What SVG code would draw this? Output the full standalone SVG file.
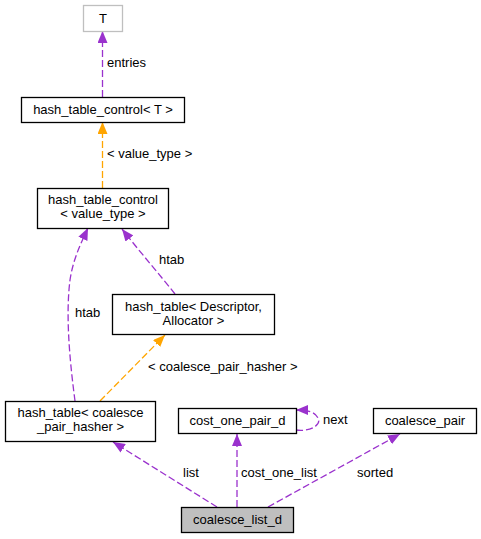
<svg xmlns="http://www.w3.org/2000/svg" width="481" height="539" viewBox="0 0 481 539">
<defs>
<style>
text{font-family:"Liberation Sans",Arial,sans-serif;font-size:13px;fill:#000}
.n rect{fill:#fff;stroke:#000;stroke-width:1.3}
.c{text-anchor:middle}
.p{fill:none;stroke:#9a32cd;stroke-width:1.3;stroke-dasharray:7,3}
.o{fill:none;stroke:#ffa500;stroke-width:1.3;stroke-dasharray:7,3}
</style>
<marker id="ap" viewBox="0 0 12 10" refX="12" refY="5" markerWidth="12" markerHeight="10" markerUnits="userSpaceOnUse" orient="auto"><path d="M0,0L12,5L0,10z" fill="#9a32cd"/></marker>
<marker id="ao" viewBox="0 0 12 10" refX="12" refY="5" markerWidth="12" markerHeight="10" markerUnits="userSpaceOnUse" orient="auto"><path d="M0,0L12,5L0,10z" fill="#ffa500"/></marker>
</defs>
<rect width="481" height="539" fill="#fff"/>
<g id="edges">
<path class="p" d="M102.5,97V31" marker-end="url(#ap)"/>
<text x="107" y="67">entries</text>
<path class="o" d="M102.5,188V122" marker-end="url(#ao)"/>
<text x="107" y="158">&lt; value_type &gt;</text>
<path class="p" d="M75,401C71,370 65,320 70,280C73,260 80,245 88,228" marker-end="url(#ap)"/>
<text x="75" y="317">htab</text>
<path class="p" d="M175,294C160,275 140,252 122,229" marker-end="url(#ap)"/>
<text x="159" y="264">htab</text>
<path class="o" d="M100,401L165,335" marker-end="url(#ao)"/>
<text x="148" y="371">&lt; coalesce_pair_hasher &gt;</text>
<path class="p" d="M217,507L113,442" marker-end="url(#ap)"/>
<text x="183" y="477">list</text>
<path class="p" d="M237,507V434" marker-end="url(#ap)"/>
<text x="241" y="477">cost_one_list</text>
<path class="p" d="M268,507L400,434" marker-end="url(#ap)"/>
<text x="357" y="477">sorted</text>
<path class="p" d="M296,430C310,432 322,425 318,418C315,412 308,410 296,410" marker-end="url(#ap)"/>
<text x="323" y="424">next</text>
</g>
<g id="node-T" class="n"><rect x="83.5" y="5.5" width="39" height="26" style="stroke:#bfbfbf"/><text class="c" x="103" y="23">T</text></g>
<g id="node-htc-T" class="n"><rect x="21.5" y="97.5" width="163" height="25"/><text class="c" x="103" y="114">hash_table_control&lt; T &gt;</text></g>
<g id="node-htc-vt" class="n"><rect x="37.5" y="188.5" width="131" height="40"/><text class="c" x="103" y="204">hash_table_control</text><text class="c" x="103" y="218">&lt; value_type &gt;</text></g>
<g id="node-ht-desc" class="n"><rect x="112.5" y="294.5" width="162" height="40"/><text class="c" x="193.5" y="311">hash_table&lt; Descriptor,</text><text class="c" x="193.5" y="325">Allocator &gt;</text></g>
<g id="node-ht-cph" class="n"><rect x="5.5" y="401.5" width="150" height="40"/><text class="c" x="80.5" y="417">hash_table&lt; coalesce</text><text class="c" x="80.5" y="431">_pair_hasher &gt;</text></g>
<g id="node-cost" class="n"><rect x="178.5" y="408.5" width="118" height="25"/><text class="c" x="237.5" y="425">cost_one_pair_d</text></g>
<g id="node-cp" class="n"><rect x="373.5" y="408.5" width="103" height="25"/><text class="c" x="425" y="425">coalesce_pair</text></g>
<g id="node-cld" class="n"><rect x="181.5" y="507.5" width="112" height="25" style="fill:#bfbfbf"/><text class="c" x="237.5" y="524">coalesce_list_d</text></g>
</svg>
